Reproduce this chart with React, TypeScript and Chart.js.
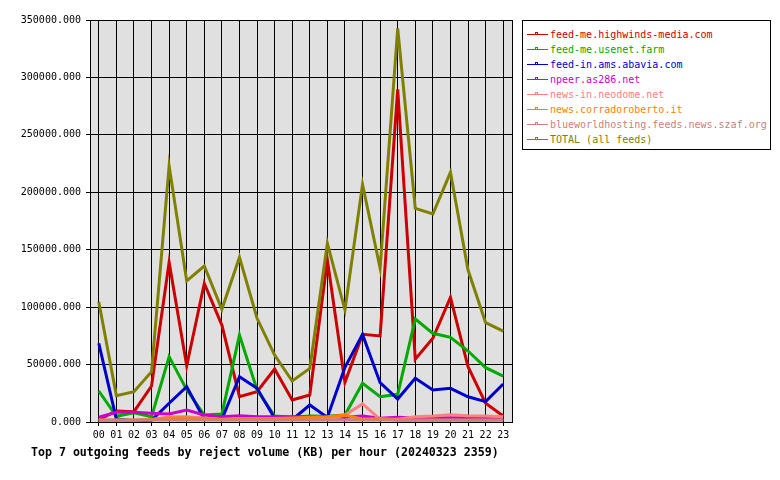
import React, { useEffect, useRef } from "react";
import { Chart, registerables } from "chart.js";

Chart.register(...registerables);

const hours = ["00","01","02","03","04","05","06","07","08","09","10","11","12","13","14","15","16","17","18","19","20","21","22","23"];

const seriesNames = [
  "feed-me.highwinds-media.com",
  "feed-me.usenet.farm",
  "feed-in.ams.abavia.com",
  "npeer.as286.net",
  "news-in.neodome.net",
  "news.corradoroberto.it",
  "blueworldhosting.feeds.news.szaf.org",
  "TOTAL (all feeds)",
];

const seriesColors = ["#cc0000", "#00aa00", "#0000cc", "#cc00cc", "#ff8080", "#ff8000", "#c88080", "#808000"];

const highwinds = [2000, 9600, 9000, 31300, 139000, 49000, 120700, 84400, 22000, 26400, 46100, 19200, 23500, 141000, 34500, 76300, 74900, 289600, 54600, 72900, 108500, 48200, 16300, 5200];
const usenetFarm = [27000, 5000, 8100, 4600, 56900, 28000, 6100, 7000, 75700, 27900, 5200, 4100, 5200, 5000, 6100, 33700, 22000, 24100, 89700, 77200, 73700, 61800, 47300, 40000];
const abavia = [68500, 2600, 1000, 1500, 16300, 30700, 2300, 2300, 39400, 29300, 3200, 2000, 14800, 4000, 47600, 76300, 34200, 20000, 38000, 27900, 29300, 22000, 17700, 33100];
const as286 = [4100, 8400, 8400, 7600, 7000, 10400, 6100, 4600, 5500, 4600, 4600, 4600, 4300, 4300, 4100, 5200, 3200, 4100, 3500, 3500, 3800, 3800, 3800, 3500];
const neodome = [1500, 1500, 1500, 2000, 4600, 4600, 3500, 2000, 2000, 2000, 2000, 2000, 2500, 2500, 6100, 15700, 2300, 2500, 4600, 5200, 6400, 5500, 5200, 4600];
const corradoroberto = [1500, 1500, 1500, 2500, 3500, 3500, 3000, 2500, 3000, 3000, 3000, 3500, 4100, 4600, 6100, 2500, 3000, 1500, 1500, 1500, 1500, 1500, 1500, 1500];
const blueworld = [1700, 1700, 1700, 1700, 1700, 1700, 1700, 1700, 1700, 1700, 1700, 1700, 1700, 1700, 1700, 1700, 1700, 1700, 1700, 1700, 1700, 1700, 1700, 1700];
const total = [104700, 22900, 26400, 43800, 223000, 122800, 135800, 98100, 143400, 90300, 58300, 35700, 46700, 155600, 97500, 206900, 133800, 342700, 186000, 181100, 217400, 132300, 86500, 79200];

const seriesValues = [highwinds, usenetFarm, abavia, as286, neodome, corradoroberto, blueworld, total];

const yTicks = [0, 50000, 100000, 150000, 200000, 250000, 300000, 350000];

const titleText = "Top 7 outgoing feeds by reject volume (KB) per hour (20240323 2359)";

const MONO = "'DejaVu Sans Mono', 'Liberation Mono', monospace";

const plotFrame = {
  id: "plotFrame",
  beforeDraw(chart: any) {
    const { ctx, chartArea } = chart;
    ctx.save();
    ctx.fillStyle = "#e0e0e0";
    ctx.fillRect(chartArea.left, chartArea.top, chartArea.right - chartArea.left, chartArea.bottom - chartArea.top);
    ctx.restore();
  },
  afterDraw(chart: any) {
    const { ctx, chartArea } = chart;
    ctx.save();
    ctx.strokeStyle = "#000";
    ctx.lineWidth = 1;
    ctx.strokeRect(
      Math.round(chartArea.left) + 0.5,
      Math.round(chartArea.top) + 0.5,
      Math.round(chartArea.right - chartArea.left),
      Math.round(chartArea.bottom - chartArea.top)
    );
    ctx.restore();
  },
};

export default function App() {
  const canvasRef = useRef<HTMLCanvasElement | null>(null);

  useEffect(() => {
    if (!canvasRef.current) return;
    const chart = new Chart(canvasRef.current, {
      type: "line",
      data: {
        labels: hours,
        datasets: seriesNames.map((name, i) => ({
          label: name,
          data: seriesValues[i],
          borderColor: seriesColors[i],
          backgroundColor: seriesColors[i],
          borderWidth: 3,
          pointRadius: 0,
          tension: 0,
          fill: false,
          order: 10 - i,
        })),
      },
      options: {
        animation: false,
        responsive: false,
        maintainAspectRatio: false,
        layout: { padding: { left: 0, top: 20, right: 268, bottom: 0 } },
        plugins: {
          legend: { display: false },
          title: { display: false },
          tooltip: { enabled: false },
        },
        scales: {
          x: {
            type: "category",
            offset: true,
            grid: { color: "#000", lineWidth: 1, offset: false, drawTicks: true, tickLength: 4, tickColor: "#000" },
            border: { color: "#000" },
            ticks: { color: "#000", font: { family: MONO, size: 10 }, padding: 3, maxRotation: 0, autoSkip: false },
            afterFit(scale: any) {
              scale.height = 58;
            },
          },
          y: {
            min: 0,
            max: 350000,
            afterBuildTicks(scale: any) {
              scale.ticks = yTicks.map((v) => ({ value: v }));
            },
            grid: { color: "#000", lineWidth: 1, drawTicks: true, tickLength: 4, tickColor: "#000" },
            border: { color: "#000" },
            ticks: {
              color: "#000",
              font: { family: MONO, size: 10 },
              padding: 5,
              callback: (v: any) => Number(v).toFixed(3),
            },
            afterFit(scale: any) {
              scale.width = 90;
            },
          },
        },
      },
      plugins: [plotFrame],
    });
    return () => chart.destroy();
  }, []);

  return (
    <div style={{ position: "fixed", left: 0, top: 0, width: 780, height: 480, background: "#fff", fontFamily: MONO }}>
      <canvas ref={canvasRef} width={780} height={480} style={{ position: "absolute", left: 0, top: 0, width: 780, height: 480 }} />
      <div
        style={{
          position: "absolute",
          left: 522,
          top: 20,
          width: 247,
          height: 128,
          border: "1px solid #000",
          background: "#fff",
        }}
      >
        {seriesNames.map((name, i) => (
          <div
            key={name}
            style={{
              position: "absolute",
              left: 0,
              top: 6 + i * 15,
              height: 15,
              width: 247,
              display: "flex",
              alignItems: "center",
            }}
          >
            <div style={{ position: "relative", width: 21, height: 15, marginLeft: 4, marginRight: 2 }}>
              <div style={{ position: "absolute", left: 0, top: 7, width: 21, height: 1, background: seriesColors[i] }} />
              <div
                style={{
                  position: "absolute",
                  left: 8,
                  top: 5,
                  width: 1,
                  height: 2,
                  borderLeft: `1px solid ${seriesColors[i]}`,
                  borderRight: `1px solid ${seriesColors[i]}`,
                  borderTop: `1px solid ${seriesColors[i]}`,
                  boxSizing: "content-box",
                }}
              />
            </div>
            <span style={{ color: seriesColors[i], fontSize: 10, fontFamily: MONO, whiteSpace: "nowrap", lineHeight: "15px" }}>{name}</span>
          </div>
        ))}
      </div>
      <div
        style={{
          position: "absolute",
          left: 31,
          top: 444,
          fontFamily: MONO,
          fontWeight: "bold",
          fontSize: 11.6,
          color: "#000",
          whiteSpace: "nowrap",
          lineHeight: "16px",
        }}
      >
        {titleText}
      </div>
    </div>
  );
}
